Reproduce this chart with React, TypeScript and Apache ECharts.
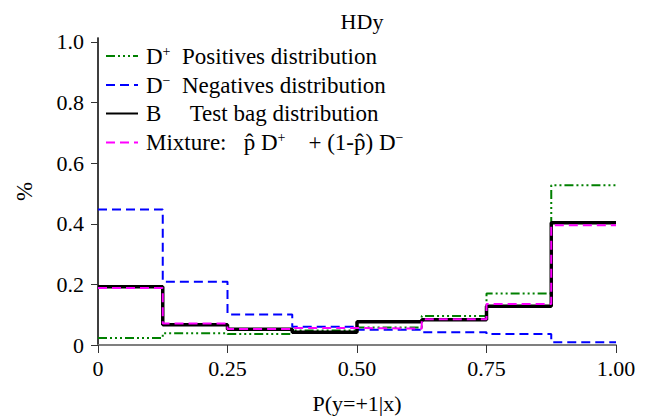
import React, { useEffect, useRef } from "react";
import * as echarts from "echarts";

const binEdges = [0, 0.125, 0.25, 0.375, 0.5, 0.625, 0.75, 0.875, 1.0];
const posDist = [0.023, 0.039, 0.036, 0.048, 0.058, 0.096, 0.17, 0.527];
const negDist = [0.447, 0.209, 0.101, 0.06, 0.05, 0.042, 0.036, 0.009];
const bagDist = [0.192, 0.067, 0.052, 0.042, 0.077, 0.083, 0.128, 0.403];
const mixDist = [0.188, 0.071, 0.053, 0.056, 0.054, 0.085, 0.135, 0.395];

const xTicks = [0, 0.25, 0.5, 0.75, 1.0];
const xTickLabels = ["0", "0.25", "0.50", "0.75", "1.00"];
const yTicks = [0, 0.2, 0.4, 0.6, 0.8, 1.0];
const yTickLabels = ["0", "0.2", "0.4", "0.6", "0.8", "1.0"];

const seriesNames = ["pos", "neg", "bag", "mix"];
const legendRich: Record<string, string> = {
  pos: "{t|D}{sup|+}{t|  Positives distribution}",
  neg: "{t|D}{sup|−}{t|  Negatives distribution}",
  bag: "{t|B     Test bag distribution}",
  mix: "{t|Mixture:   p̂ D}{sup|+}{t|    + (1-p̂) D}{sup|−}",
};

const FONT = "Liberation Serif";

function steps(vals: number[]) {
  return binEdges.map((x, i) => [x, vals[Math.min(i, vals.length - 1)]]);
}

export default function App() {
  const ref = useRef<HTMLDivElement>(null);
  useEffect(() => {
    if (!ref.current) return;
    const chart = echarts.init(ref.current, null, { renderer: "svg" });
    const fmtX = (v: number) => {
      const i = xTicks.findIndex((t) => Math.abs(t - v) < 1e-6);
      return i >= 0 ? "{a|" + xTickLabels[i] + "}" : "";
    };
    const fmtY = (v: number) => {
      const i = yTicks.findIndex((t) => Math.abs(t - v) < 1e-6);
      return i >= 0 ? "{a|" + yTickLabels[i] + "}" : "";
    };
    const labelRich = { a: { fontFamily: FONT, fontSize: 22, color: "#000" } };
    chart.setOption({
      animation: false,
      backgroundColor: "#fff",
      textStyle: { fontFamily: FONT },
      title: {
        text: "HDy",
        left: 357,
        textAlign: "center",
        top: 5,
        textStyle: { fontFamily: FONT, fontWeight: "normal", fontSize: 22, color: "#000" },
      },
      grid: { left: 98, right: 34, top: 38, bottom: 73 },
      legend: {
        orient: "vertical",
        left: 105,
        top: 44,
        padding: 0,
        itemWidth: 32,
        itemHeight: 14,
        itemGap: 5.5,
        itemStyle: { opacity: 0 },
        data: seriesNames,
        formatter: (name: string) => legendRich[name],
        textStyle: {
          fontFamily: FONT,
          fontSize: 23,
          color: "#000",
          padding: [0, 0, 0, 3],
          rich: {
            t: { fontFamily: FONT, fontSize: 23, color: "#000", lineHeight: 24 },
            sup: { fontFamily: FONT, fontSize: 14, color: "#000", verticalAlign: "top", lineHeight: 20 },
          },
        },
      },
      xAxis: [
        {
          type: "value",
          min: 0,
          max: 1,
          interval: 0.25,
          offset: 2,
          name: "P(y=+1|x)",
          nameLocation: "middle",
          nameGap: 45,
          nameTextStyle: { fontFamily: FONT, fontSize: 22, color: "#000" },
          axisLine: { show: true, lineStyle: { color: "#777", width: 1.5 } },
          axisTick: { show: true, length: 8, lineStyle: { color: "#333" } },
          axisLabel: {
            formatter: fmtX,
            margin: 10,
            fontFamily: FONT,
            fontSize: 22,
            color: "#000",
            rich: labelRich,
          },
          splitLine: { show: false },
        },
        {
          type: "value",
          position: "top",
          min: 0,
          max: 1,
          axisLine: { show: true, lineStyle: { color: "#777", width: 1.5 } },
          axisTick: { show: false },
          axisLabel: { show: false },
          splitLine: { show: false },
        },
      ],
      yAxis: [
        {
          type: "value",
          min: 0,
          max: 1.013,
          name: "%",
          nameLocation: "middle",
          nameGap: 62,
          nameRotate: 90,
          nameTextStyle: { fontFamily: FONT, fontSize: 23, color: "#000" },
          axisLine: { show: true, lineStyle: { color: "#777", width: 1.5 } },
          axisTick: { show: true, length: 7, customValues: yTicks, lineStyle: { color: "#333" } },
          axisLabel: {
            customValues: yTicks,
            formatter: fmtY,
            margin: 14,
            fontFamily: FONT,
            fontSize: 22,
            color: "#000",
            rich: labelRich,
          },
          splitLine: { show: false },
        },
        {
          type: "value",
          position: "right",
          min: 0,
          max: 1.013,
          axisLine: { show: true, lineStyle: { color: "#222", width: 1.5 } },
          axisTick: { show: false },
          axisLabel: { show: false },
          splitLine: { show: false },
        },
      ],
      series: [
        {
          name: "pos",
          type: "line",
          step: "end",
          symbol: "none",
          data: steps(posDist),
          color: "#008000",
          lineStyle: { color: "#008000", width: 2, type: [9, 3, 2, 3, 2, 3, 2, 3] },
        },
        {
          name: "neg",
          type: "line",
          step: "end",
          symbol: "none",
          data: steps(negDist),
          color: "#0000ff",
          lineStyle: { color: "#0000ff", width: 2, type: [9, 5] },
        },
        {
          name: "bag",
          type: "line",
          step: "end",
          symbol: "none",
          data: steps(bagDist),
          color: "#000",
          lineStyle: { color: "#000", width: 3.5 },
        },
        {
          name: "mix",
          type: "line",
          step: "end",
          symbol: "none",
          data: steps(mixDist),
          color: "#ff00ff",
          lineStyle: { color: "#ff00ff", width: 2, type: [9, 5] },
        },
      ],
    });
    return () => chart.dispose();
  }, []);
  return (
    <div
      ref={ref}
      style={{ position: "fixed", left: 0, top: 0, width: 650, height: 419 }}
    />
  );
}
